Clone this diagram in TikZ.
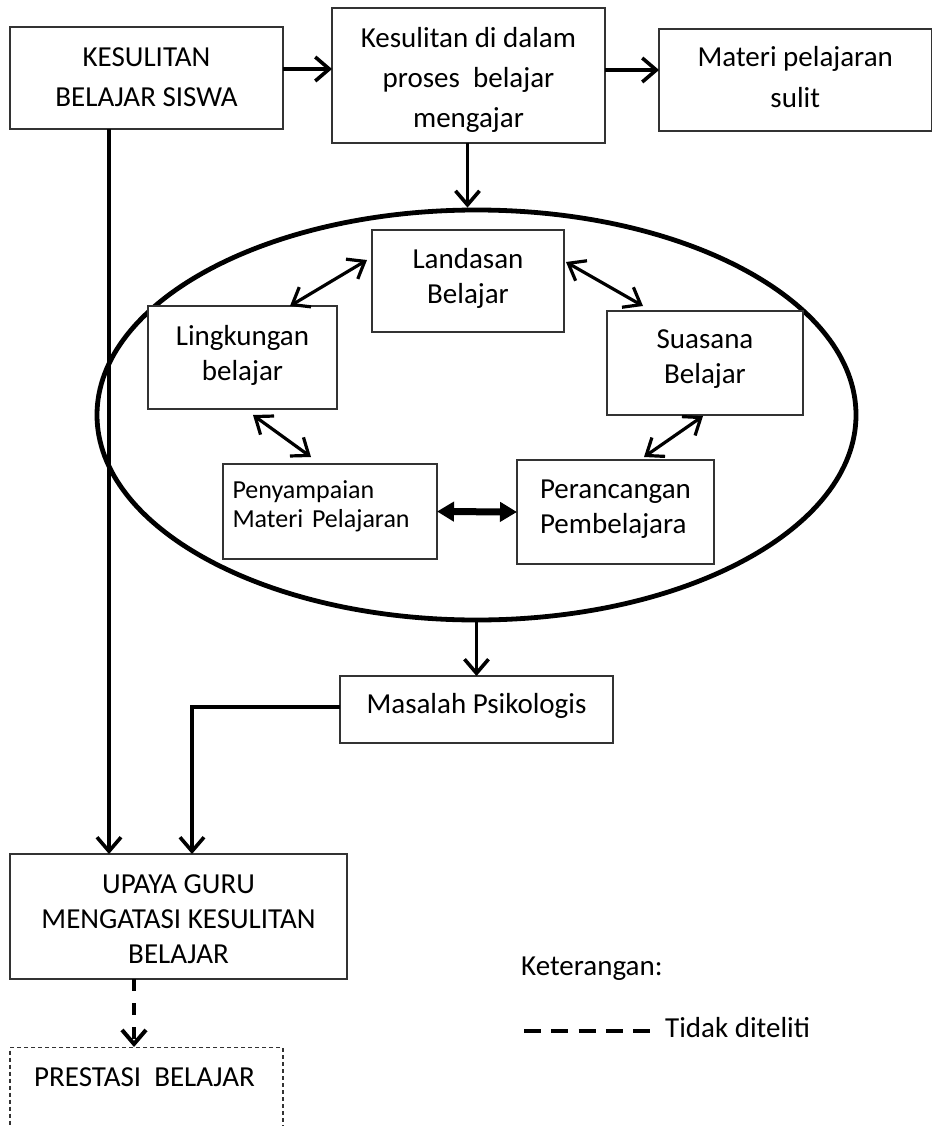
\documentclass[tikz,border=0pt]{standalone}
\usepackage{fontspec}
\setmainfont{Carlito}
\usetikzlibrary{arrows.meta,shapes.geometric}
\begin{document}
\begin{tikzpicture}[x=1pt,y=-1pt,
  box/.style={draw=black!80, line width=1.1pt, fill=white, rectangle, inner sep=0pt, outer sep=0pt, align=center, font=\fontsize{29}{40}\selectfont, text depth=0pt},
  ibox/.style={box, font=\fontsize{29}{35}\selectfont},
  arr/.style={line width=3.6pt, -{Straight Barb[length=14pt,width=24pt,line width=3.6pt]}},
  darr/.style={line width=3.2pt, {Straight Barb[length=15pt,width=23pt,line width=3.2pt]}-{Straight Barb[length=15pt,width=23pt,line width=3.2pt]}},
  tarr/.style={line width=7pt, {Triangle[length=17pt,width=19pt]}-{Triangle[length=17pt,width=19pt]}},
  dasharr/.style={line width=4.5pt, dash pattern=on 12pt off 12pt, -{Straight Barb[length=14pt,width=24pt,line width=4pt]}},
  legdash/.style={line width=4pt, dash pattern=on 17pt off 10.25pt},
  txt/.style={font=\fontsize{29}{35}\selectfont, inner sep=0pt}
]
\useasboundingbox (0,0) rectangle (932,1126);
\clip (0,0) rectangle (932,1126);
\fill[white] (0,0) rectangle (932,1126);

% ellipse
\node[draw, ellipse, line width=4.8pt, minimum width=759pt, minimum height=410pt, inner sep=0pt] (ell) at (476.5,415) {};

% top boxes
\node[box, minimum width=273pt, minimum height=102pt, text height=58pt] (b1) at (146.5,78) {KESULITAN\\BELAJAR SISWA};
\node[box, minimum width=273pt, minimum height=135pt, text height=105pt] (b2) at (468.5,75.5) {Kesulitan di dalam\\proses\ \ belajar\\mengajar};
\node[box, font=\fontsize{29}{41}\selectfont, minimum width=272.5pt, minimum height=102pt, text height=56pt] (b3) at (795.25,80) {Materi pelajaran\\sulit};

% inner boxes
\node[ibox, minimum width=192pt, minimum height=102pt, text height=44pt] (land) at (468,281) {Landasan\\Belajar};
\node[ibox, minimum width=189pt, minimum height=103pt, text height=45pt] (ling) at (242.5,357.5) {Lingkungan\\belajar};
\node[ibox, minimum width=196pt, minimum height=104pt, text height=40pt] (suas) at (705,363) {Suasana\\Belajar};
\node[box, font=\fontsize{26}{29}\selectfont, align=left, text width=195pt, minimum width=214pt, minimum height=95pt, text height=0pt, text depth=27pt] (peny) at (330,511.5) {Penyampaian\\Materi Pelajaran};
\node[ibox, align=left, minimum width=197pt, minimum height=104pt, text height=42pt] (pera) at (615.5,512) {Perancangan\\Pembelajara};

% lower boxes
\node[box, minimum width=273pt, minimum height=67pt, text height=7pt] (mas) at (476.5,709.5) {Masalah Psikologis};
\node[ibox, minimum width=337pt, minimum height=125pt, text height=93pt] (upaya) at (178.5,916.5) {UPAYA GURU\\MENGATASI KESULITAN\\BELAJAR};
\node[draw=black!80, line width=1.1pt, dash pattern=on 4pt off 3pt, rectangle, inner sep=0pt, minimum width=273pt, minimum height=130pt, anchor=north] (prestbox) at (146.5,1047) {};
\node[txt, anchor=base] (prestt) at (144.5,1086) {PRESTASI\ \ BELAJAR};

% legend
\node[txt, anchor=base west] (ket) at (521,975) {Keterangan:};
\node[txt, anchor=base west] (tid) at (665,1037) {Tidak diteliti};
\coordinate (lg1) at (524,1031);
\coordinate (lg2) at (650,1031);
\draw[legdash] (lg1) -- (lg2);

% connectors
\draw[arr] ([yshift=9pt]b1.east) -- ([yshift=9pt]b1.east -| b2.west);
\draw[arr] ([yshift=5.5pt]b2.east) -- ([yshift=5.5pt]b2.east -| b3.west);
\draw[arr] ([xshift=-1pt]b2.south) -- ([xshift=-1pt]b2.south |- ell.north);
\draw[arr] (ell.south) -- (mas.north);
\draw[arr] ([xshift=-37.5pt]b1.south) -- ([xshift=-37.5pt]b1.south |- upaya.north);
\draw[arr] ([yshift=2.5pt]mas.west) -| ([xshift=13.5pt]upaya.north);
\draw[dasharr] ([xshift=-44.5pt]upaya.south) -- ([xshift=-44.5pt]upaya.south |- prestbox.north);

\draw[darr] ([xshift=47.5pt]ling.north) -- ([shift={(-5pt,21pt)}]land.west);
\draw[darr] ([shift={(2pt,19pt)}]land.east) -- ([shift={(-62pt,5pt)}]suas.north);
\draw[darr] ([shift={(10.5pt,-6pt)}]ling.south) -- ([shift={(-19pt,7pt)}]peny.north);
\draw[darr] ([shift={(-2pt,-1pt)}]suas.south) -- ([shift={(28.5pt,3pt)}]pera.north);
\draw[tarr] (peny.east) -- (pera.west);
\end{tikzpicture}
\end{document}
